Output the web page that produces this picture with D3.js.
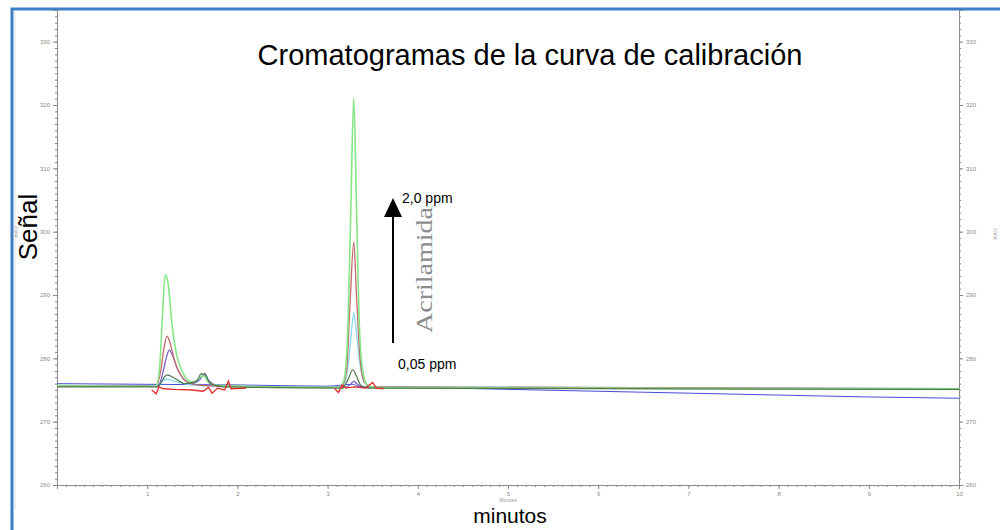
<!DOCTYPE html>
<html>
<head>
<meta charset="utf-8">
<script src="https://cdn.jsdelivr.net/npm/d3@7"></script>
<style>
  body { margin: 0; background: #fff; }
  svg { display: block; }
  .axis path, .axis line { stroke: #8a8a8a; }
  .axis text { fill: #8a8a8a; font-family: "Liberation Sans", Arial, sans-serif; font-size: 6px; }
</style>
</head>
<body>
<svg width="1000" height="530"></svg>
<script>
// chromatogram traces, [minutes, signal]
var green2ppm = [[0,275.7],[1.0,275.6],[1.10,275.7],[1.14,279],[1.17,287],[1.20,293.2],[1.23,292],[1.27,286],[1.32,281],[1.38,278.2],[1.45,276.6],[1.52,276.2],[1.58,277.0],[1.63,277.2],[1.68,276.2],[1.8,275.7],[3.12,275.4],[3.18,276.5],[3.22,283],[3.255,302],[3.29,321.1],[3.32,304],[3.35,286],[3.39,278],[3.45,275.6],[3.6,275.4],[6,275.3],[10,275.2]];
var brown = [[0,275.6],[1.10,275.6],[1.15,278],[1.19,282],[1.22,283.5],[1.25,282.6],[1.30,279.8],[1.36,277.6],[1.44,276.3],[1.55,275.8],[1.8,275.6],[3.15,275.4],[3.21,278],[3.25,289],[3.29,298.4],[3.32,290],[3.36,280],[3.41,276.2],[3.5,275.5],[10,275.2]];
var cyan = [[0,275.6],[1.12,275.6],[1.17,276.4],[1.22,276.7],[1.3,276.4],[1.45,275.9],[1.8,275.6],[3.16,275.4],[3.22,278],[3.26,283.5],[3.29,287.2],[3.32,284],[3.36,279],[3.42,276],[3.52,275.5],[10,275.2]];
var purple = [[0,275.6],[1.12,275.6],[1.17,277.5],[1.21,280],[1.245,281.3],[1.28,280.5],[1.33,278.5],[1.40,276.8],[1.5,276],[1.58,276.6],[1.64,277.6],[1.68,276.5],[1.8,275.6],[3.2,275.4],[3.26,276],[3.29,276.4],[3.33,275.9],[3.4,275.4],[10,275.2]];
var olive = [[0,275.5],[1.12,275.5],[1.17,276.6],[1.22,277.4],[1.3,276.9],[1.42,276.0],[1.55,276.4],[1.6,277.6],[1.65,277.3],[1.7,276],[1.85,275.5],[3.17,275.3],[3.23,276.8],[3.28,278.2],[3.32,277.2],[3.37,275.7],[3.45,275.3],[10,275.1]];
var blue = [[0,276.0],[1,275.9],[2,275.8],[3,275.6],[3.28,275.9],[3.35,275.5],[4,275.4],[5,275.1],[6,274.8],[7,274.5],[8,274.2],[9,273.9],[10,273.7]];
var redA = [[1.05,275.0],[1.10,274.4],[1.13,275.5],[1.18,275.2],[1.3,275.1],[1.5,275.0],[1.62,274.8],[1.68,275.4],[1.72,274.5],[1.78,275.3],[1.86,275.0],[1.9,276.4],[1.93,275.2],[2.1,275.3]];
var redB = [[3.08,275.2],[3.12,274.6],[3.16,275.8],[3.2,275.3],[3.3,275.5],[3.42,275.3],[3.5,276.2],[3.54,275.3],[3.62,275.2]];

var yTicks = [260, 270, 280, 290, 300, 310, 320, 330];
var xTicks = [1, 2, 3, 4, 5, 6, 7, 8, 9, 10];

var svg = d3.select("svg");

var x = d3.scaleLinear().domain([0, 10]).range([57, 959]);
var y = d3.scaleLinear().domain([260, 335]).range([485, 10]);

// frame
svg.append("path")
    .attr("d", "M12,530 V9 H1000")
    .attr("fill", "none")
    .attr("stroke", "#3d7cc6")
    .attr("stroke-width", 3);
svg.append("line")
    .attr("x1", 15).attr("x2", 15).attr("y1", 12).attr("y2", 510)
    .attr("stroke", "#e4e4e4").attr("stroke-width", 1);

// minor ticks
svg.append("g").attr("class", "axis")
    .attr("transform", "translate(" + x(0) + ",0)")
    .call(d3.axisLeft(y).tickValues(d3.range(260, 336, 1)).tickSize(2).tickFormat(""));
svg.append("g").attr("class", "axis")
    .attr("transform", "translate(" + x(10) + ",0)")
    .call(d3.axisRight(y).tickValues(d3.range(260, 336, 1)).tickSize(2).tickFormat(""));
svg.append("g").attr("class", "axis")
    .attr("transform", "translate(0," + y(260) + ")")
    .call(d3.axisBottom(x).tickValues(d3.range(0, 10.01, 0.1)).tickSize(2).tickFormat(""));

// major ticks
svg.append("g").attr("class", "axis")
    .attr("transform", "translate(" + x(0) + ",0)")
    .call(d3.axisLeft(y).tickValues(yTicks).tickSize(4).tickPadding(3));
svg.append("g").attr("class", "axis")
    .attr("transform", "translate(" + x(10) + ",0)")
    .call(d3.axisRight(y).tickValues(yTicks).tickSize(4).tickPadding(3));
svg.append("g").attr("class", "axis")
    .attr("transform", "translate(0," + y(260) + ")")
    .call(d3.axisBottom(x).tickValues(xTicks).tickSize(4).tickPadding(3).tickFormat(d3.format("d")));
svg.selectAll(".axis .domain").attr("stroke", "#8a8a8a");

// traces
var line = d3.line()
    .x(function(d) { return x(d[0]); })
    .y(function(d) { return y(d[1]); })
    .curve(d3.curveMonotoneX);
var rough = d3.line()
    .x(function(d) { return x(d[0]); })
    .y(function(d) { return y(d[1]); });

var traces = [
  {data: blue, color: "#4a4ad8", w: 1},
  {data: cyan, color: "#86d9ee", w: 1.3},
  {data: purple, color: "#6f55c8", w: 1.2},
  {data: brown, color: "#c46a6a", w: 1.3},
  {data: green2ppm, color: "#86e686", w: 1.6},
  {data: olive, color: "#4f7a4c", w: 1.2}
];
traces.forEach(function(t) {
  svg.append("path")
      .attr("d", line(t.data))
      .attr("fill", "none")
      .attr("stroke", t.color)
      .attr("stroke-width", t.w);
});
[redA, redB].forEach(function(r) {
  svg.append("path")
      .attr("d", rough(r))
      .attr("fill", "none")
      .attr("stroke", "#e52c2c")
      .attr("stroke-width", 1.3);
});

// texts
svg.append("text")
    .attr("x", 530).attr("y", 65)
    .attr("text-anchor", "middle")
    .style("font-family", "Liberation Sans, Arial, sans-serif")
    .style("font-size", "29px")
    .text("Cromatogramas de la curva de calibración");

svg.append("text")
    .attr("transform", "translate(37,227) rotate(-90)")
    .attr("text-anchor", "middle")
    .style("font-family", "Liberation Sans, Arial, sans-serif")
    .style("font-size", "26px")
    .text("Señal");

svg.append("text")
    .attr("transform", "translate(18,232) rotate(-90)")
    .attr("text-anchor", "middle")
    .style("font-family", "Liberation Sans, Arial, sans-serif")
    .style("font-size", "5px")
    .attr("fill", "#999")
    .text("mAU");
svg.append("text")
    .attr("transform", "translate(997,234) rotate(-90)")
    .attr("text-anchor", "middle")
    .style("font-family", "Liberation Sans, Arial, sans-serif")
    .style("font-size", "5px")
    .attr("fill", "#999")
    .text("mAU");

svg.append("text")
    .attr("x", 508).attr("y", 502)
    .attr("text-anchor", "middle")
    .style("font-family", "Liberation Sans, Arial, sans-serif")
    .style("font-size", "5px")
    .attr("fill", "#999")
    .text("Minutes");

svg.append("text")
    .attr("x", 510).attr("y", 523)
    .attr("text-anchor", "middle")
    .style("font-family", "Liberation Sans, Arial, sans-serif")
    .style("font-size", "21px")
    .text("minutos");

// arrow annotation
svg.append("line")
    .attr("x1", 393).attr("x2", 393).attr("y1", 343).attr("y2", 214)
    .attr("stroke", "#000").attr("stroke-width", 2);
svg.append("path")
    .attr("d", "M393,198 L384,217 L402,217 Z")
    .attr("fill", "#000");

svg.append("text")
    .attr("x", 402).attr("y", 203)
    .style("font-family", "Liberation Sans, Arial, sans-serif")
    .style("font-size", "14px")
    .text("2,0 ppm");
svg.append("text")
    .attr("x", 398).attr("y", 369)
    .style("font-family", "Liberation Sans, Arial, sans-serif")
    .style("font-size", "14px")
    .text("0,05 ppm");

svg.append("text")
    .attr("transform", "translate(432,270) rotate(-90)")
    .attr("text-anchor", "middle")
    .style("font-family", "Liberation Serif, Times New Roman, serif")
    .style("font-size", "23px")
    .attr("fill", "#8c8c8c")
    .attr("textLength", 126)
    .attr("lengthAdjust", "spacingAndGlyphs")
    .text("Acrilamida");
</script>
</body>
</html>
